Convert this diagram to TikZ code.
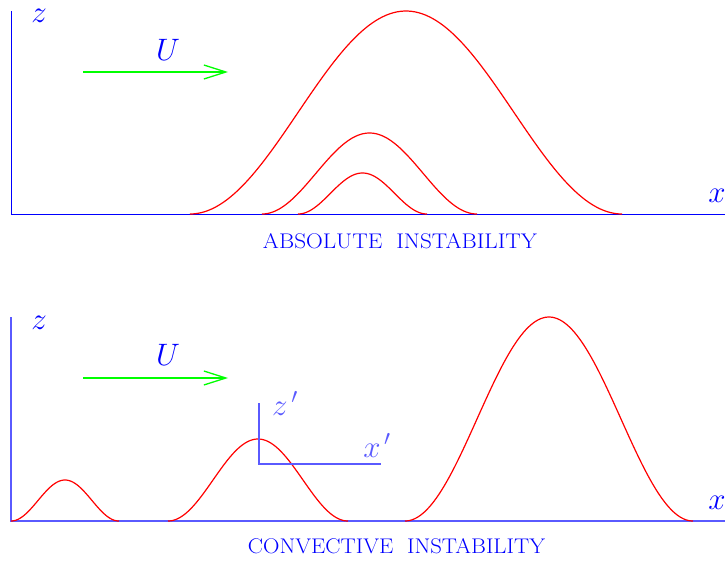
\RequirePackage{fix-cm}
\documentclass[tikz,border=0pt]{standalone}
\usetikzlibrary{arrows.meta}
\definecolor{axblue}{RGB}{0,0,255}
\definecolor{axlight}{RGB}{90,90,255}
\definecolor{wavered}{RGB}{255,0,0}
\definecolor{flowgreen}{RGB}{0,255,0}
\tikzset{
  axisline/.style={draw=axblue, line width=0.9pt},
  axislight/.style={draw=axlight, line width=1.1pt},
  wave/.style={draw=wavered, line width=1.2pt},
  flow/.style={draw=flowgreen, line width=1.3pt, -{Straight Barb[length=22pt,width=14pt,line width=1.3pt]}},
  mathlbl/.style={text=axblue, font=\fontsize{31}{35}\selectfont, inner sep=0pt, anchor=base},
  mathlight/.style={text=axlight, font=\fontsize{31}{35}\selectfont, inner sep=0pt, anchor=base},
  caption/.style={text=axblue, font=\fontsize{22}{26}\selectfont, inner sep=0pt, anchor=base},
}
\newcommand{\bump}[4]{% x0, x1, base, height
  \draw[wave] plot[domain=0:360, samples=120, smooth] ({#1+(#2-#1)/360*\x}, {#3-#4/2*(1-cos(\x))});}
\begin{document}
\begin{tikzpicture}[x=1pt, y=-1pt]
\useasboundingbox (0,0) rectangle (725,562);
% ---------- top panel ----------
\coordinate (t0) at (11,214);
\coordinate (ttop) at (11,11);
\coordinate (tend) at (725,214);
\draw[axisline] (ttop) -- (t0) -- (tend);
\node[mathlbl] (tz) at (39,23) {$z$};
\node[mathlbl] (tx) at (717,202) {$x$};
\coordinate (ta1) at (83,72);
\coordinate (ta2) at (228,72);
\draw[flow] (ta1) -- (ta2);
\node[mathlbl] (tU) at (168,60) {$U$};
\bump{190}{622}{214}{203}
\bump{262}{477}{214}{81}
\bump{298}{427}{214}{41}
\node[caption] (tcap) at (400,248) {\resizebox{274pt}{15pt}{ABSOLUTE\ \ INSTABILITY}};
% ---------- bottom panel ----------
\coordinate (b0) at (11,521);
\coordinate (btop) at (11,317);
\coordinate (bend) at (725,521);
\draw[axislight] (btop) -- (b0) -- (bend);
\node[mathlbl] (bz) at (39,329) {$z$};
\node[mathlbl] (bx) at (717,509) {$x$};
\coordinate (ba1) at (83,378);
\coordinate (ba2) at (228,378);
\draw[flow] (ba1) -- (ba2);
\node[mathlbl] (bU) at (168,365) {$U$};
\bump{11}{119}{521}{41}
\bump{168}{348}{521}{82}
\bump{405}{693}{521}{204}
% moving frame
\coordinate (fo) at (259,464);
\coordinate (fz) at (259,403);
\coordinate (fx) at (381,464);
\draw[axislight] (fz) -- (fo) -- (fx);
\node[mathlight] (zp) at (285,415) {$z^{\,\prime}$};
\node[mathlight] (xp) at (377,457) {$x^{\,\prime}$};
\node[caption] (bcap) at (396.5,553) {\resizebox{297pt}{15pt}{CONVECTIVE\ \ INSTABILITY}};
\end{tikzpicture}
\end{document}
